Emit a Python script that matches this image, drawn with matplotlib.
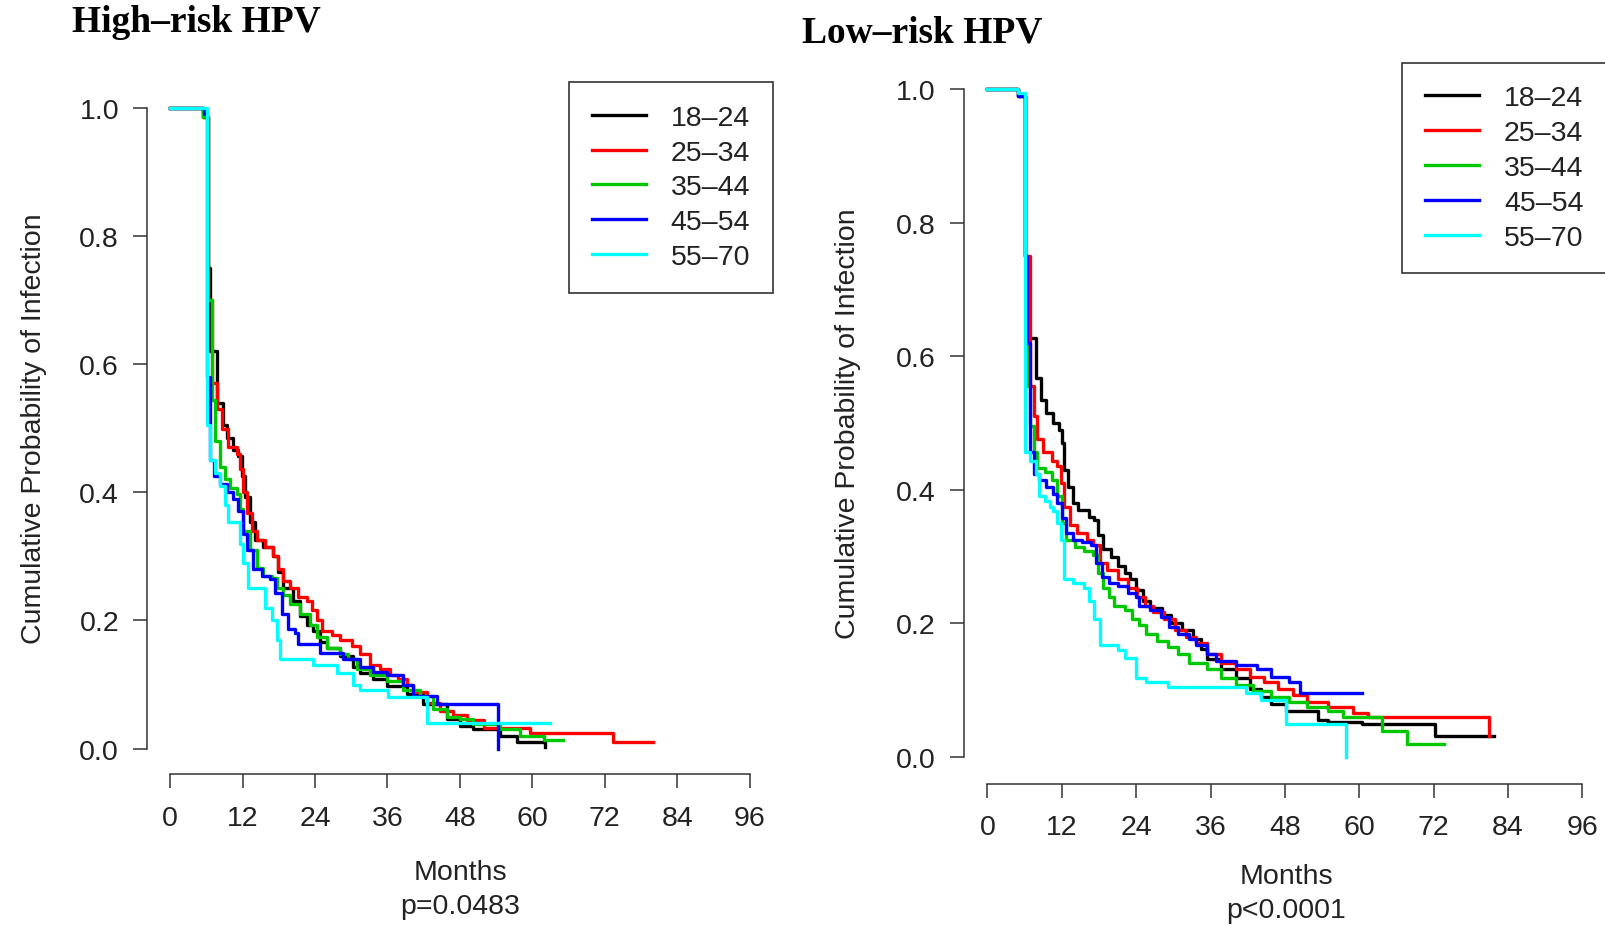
import matplotlib
matplotlib.use("Agg")
import matplotlib.pyplot as plt
from matplotlib import font_manager

# nhom tuoi va mau
groups = ["18–24", "25–34", "35–44", "45–54", "55–70"]
colors = ["#000000", "#FF0000", "#00C800", "#0000FF", "#00FFFF"]

# High-risk HPV (months, cumulative probability)
hr_t_1824 = [0, 5.5, 6.24, 6.62, 7.73, 8.83, 9.38, 10.49, 11.31, 11.86, 12.42, 13.25, 14.07, 15.45, 17.11,
             17.94, 18.76, 20.42, 21.52, 22.63, 23.73, 24.83, 25.94, 28.15, 30.35, 31.46, 33.66, 35.87,
             39.18, 41.94, 45.8, 48.01, 50.22, 54.64, 57.4, 62.09]
hr_s_1824 = [1.0, 0.985, 0.75, 0.62, 0.54, 0.505, 0.485, 0.466, 0.456, 0.426, 0.393, 0.354, 0.325, 0.315,
             0.30, 0.275, 0.25, 0.23, 0.207, 0.193, 0.184, 0.167, 0.157, 0.144, 0.128, 0.118, 0.108, 0.098,
             0.085, 0.069, 0.046, 0.036, 0.03, 0.02, 0.01, 0.003]
hr_t_2534 = [0, 5.52, 6.35, 6.90, 7.73, 8.55, 9.66, 11.04, 11.59, 12.14, 12.69, 13.52, 14.35, 15.73, 17.11,
             17.94, 18.76, 19.87, 21.25, 22.63, 23.45, 24.28, 25.11, 26.77, 28.15, 30.08, 31.46, 33.11,
             34.77, 36.42, 37.80, 39.18, 40.29, 42.49, 44.70, 46.91, 49.12, 52.0, 59.6, 73.3, 80.0]
hr_s_2534 = [1.0, 0.985, 0.70, 0.57, 0.53, 0.498, 0.47, 0.459, 0.436, 0.40, 0.367, 0.34, 0.325, 0.315, 0.30,
             0.28, 0.262, 0.25, 0.236, 0.23, 0.216, 0.20, 0.184, 0.177, 0.17, 0.16, 0.147, 0.131, 0.125,
             0.115, 0.108, 0.10, 0.088, 0.072, 0.059, 0.052, 0.045, 0.033, 0.024, 0.011, 0.011]
hr_t_3544 = [0, 5.52, 6.35, 6.90, 7.45, 8.28, 9.11, 9.93, 11.04, 11.59, 12.14, 13.25, 14.35, 15.45, 16.83,
             17.66, 18.76, 19.87, 21.52, 23.18, 24.28, 25.94, 28.15, 29.53, 30.91, 33.11, 35.87, 38.63,
             41.39, 43.60, 45.81, 48.01, 50.22, 54.64, 58.0, 62.0, 65.0]
hr_s_3544 = [1.0, 0.985, 0.70, 0.544, 0.48, 0.44, 0.42, 0.407, 0.397, 0.374, 0.34, 0.31, 0.282, 0.27, 0.266,
             0.25, 0.24, 0.226, 0.21, 0.193, 0.174, 0.157, 0.147, 0.14, 0.125, 0.115, 0.105, 0.092, 0.082,
             0.062, 0.049, 0.046, 0.039, 0.03, 0.02, 0.013, 0.013]
hr_t_4554 = [0, 5.6, 6.07, 6.62, 7.28, 8.28, 9.38, 10.49, 11.31, 12.14, 12.69, 13.80, 15.18, 16.56, 17.38,
             18.49, 19.59, 20.70, 21.25, 24.83, 28.70, 31.46, 33.66, 35.87, 38.63, 40.29, 44.15, 54.36]
hr_s_4554 = [1.0, 0.99, 0.58, 0.45, 0.426, 0.413, 0.40, 0.39, 0.37, 0.335, 0.31, 0.28, 0.27, 0.265, 0.243,
             0.21, 0.187, 0.18, 0.164, 0.15, 0.14, 0.128, 0.12, 0.115, 0.10, 0.082, 0.069, 0.0]
hr_t_5570 = [0, 6.07, 6.62, 7.45, 8.28, 9.11, 9.66, 11.59, 12.14, 12.97, 15.73, 16.83, 17.66, 18.21, 23.73,
             27.59, 30.35, 31.46, 36.15, 42.49, 62.91]
hr_s_5570 = [1.0, 0.505, 0.45, 0.43, 0.41, 0.38, 0.354, 0.32, 0.29, 0.25, 0.22, 0.20, 0.17, 0.14, 0.13,
             0.118, 0.10, 0.092, 0.08, 0.04, 0.04]

# Low-risk HPV
lr_t_1824 = [0, 4.90, 6.05, 6.62, 7.78, 8.64, 9.50, 10.66, 11.52, 12.10, 12.38, 12.96, 13.82, 14.69, 16.42,
             17.28, 17.86, 18.72, 19.87, 21.03, 22.18, 23.04, 23.91, 25.06, 26.21, 28.23, 29.67, 31.39,
             33.12, 34.5, 35.43, 37.73, 40.03, 42.34, 44.07, 45.79, 48.10, 53.28, 55.01, 60.48, 72.29, 81.80]
lr_s_1824 = [1.0, 0.99, 0.75, 0.627, 0.568, 0.535, 0.515, 0.50, 0.49, 0.47, 0.43, 0.404, 0.38, 0.37, 0.36,
             0.355, 0.332, 0.312, 0.30, 0.286, 0.276, 0.266, 0.25, 0.233, 0.223, 0.213, 0.20, 0.19, 0.177,
             0.162, 0.147, 0.131, 0.118, 0.102, 0.089, 0.079, 0.069, 0.056, 0.053, 0.049, 0.031, 0.031]
lr_t_2534 = [0, 4.90, 6.05, 6.91, 7.49, 8.06, 8.93, 10.37, 11.23, 11.81, 12.38, 13.25, 14.40, 16.13, 16.99,
             18.15, 19.30, 21.03, 22.75, 24.19, 25.35, 26.79, 28.51, 30.24, 31.97, 33.70, 35.43, 37.73,
             40.03, 42.34, 44.64, 46.95, 49.25, 51.56, 55.01, 59.04, 61.35, 80.93]
lr_s_2534 = [1.0, 0.99, 0.75, 0.555, 0.51, 0.476, 0.456, 0.443, 0.436, 0.41, 0.374, 0.348, 0.335, 0.325,
             0.318, 0.29, 0.28, 0.266, 0.253, 0.24, 0.226, 0.217, 0.207, 0.19, 0.18, 0.17, 0.154, 0.141,
             0.131, 0.12, 0.112, 0.102, 0.092, 0.082, 0.075, 0.066, 0.06, 0.031]
lr_t_3544 = [0, 4.90, 6.05, 6.34, 6.91, 7.49, 8.06, 9.22, 10.37, 11.23, 12.10, 12.67, 14.11, 15.55, 16.99,
             17.86, 18.72, 19.59, 20.45, 22.18, 23.33, 24.48, 25.63, 27.36, 29.09, 30.82, 32.55, 35.43,
             37.73, 40.03, 42.91, 45.79, 48.68, 51.56, 55.01, 57.32, 63.65, 67.68, 73.73]
lr_s_3544 = [1.0, 0.99, 0.75, 0.555, 0.496, 0.456, 0.433, 0.427, 0.414, 0.39, 0.35, 0.325, 0.315, 0.309,
             0.302, 0.276, 0.253, 0.24, 0.226, 0.22, 0.207, 0.197, 0.184, 0.174, 0.164, 0.154, 0.141, 0.131,
             0.118, 0.108, 0.098, 0.089, 0.082, 0.075, 0.069, 0.059, 0.039, 0.02, 0.02]
lr_t_4554 = [0, 4.90, 6.05, 6.34, 6.91, 7.49, 8.35, 9.50, 10.66, 11.23, 12.10, 12.67, 13.82, 15.26, 16.71,
             17.57, 18.43, 19.59, 21.03, 22.75, 23.91, 24.48, 26.21, 27.94, 29.38, 30.82, 32.55, 33.70,
             35.43, 36.87, 40.03, 43.49, 45.79, 48.68, 50.40, 60.48]
lr_s_4554 = [1.0, 0.99, 0.75, 0.62, 0.456, 0.424, 0.414, 0.404, 0.394, 0.38, 0.358, 0.335, 0.325, 0.322,
             0.318, 0.29, 0.27, 0.26, 0.256, 0.246, 0.24, 0.226, 0.22, 0.21, 0.194, 0.184, 0.177, 0.167,
             0.154, 0.144, 0.138, 0.131, 0.12, 0.112, 0.095, 0.095]
lr_t_5570 = [0, 4.90, 6.05, 6.91, 7.78, 8.35, 9.22, 10.08, 10.66, 11.23, 11.81, 12.38, 13.82, 15.55, 16.42,
             17.28, 18.15, 21.03, 22.18, 23.91, 25.63, 29.09, 41.76, 44.07, 48.10, 57.89]
lr_s_5570 = [1.0, 0.995, 0.456, 0.443, 0.424, 0.39, 0.384, 0.374, 0.368, 0.35, 0.325, 0.266, 0.26, 0.253,
             0.233, 0.207, 0.167, 0.16, 0.148, 0.118, 0.112, 0.105, 0.095, 0.085, 0.049, 0.0]

xticks = [0, 12, 24, 36, 48, 60, 72, 84, 96]
yticks = [0.0, 0.2, 0.4, 0.6, 0.8, 1.0]
ytick_labels = ["0.0", "0.2", "0.4", "0.6", "0.8", "1.0"]

# font: narrow neu co
names = {f.name for f in font_manager.fontManager.ttflist}
if "Liberation Sans Narrow" in names:
    fam, fs = "Liberation Sans Narrow", 24.5
else:
    fam, fs = "Liberation Sans", 20.5
plt.rcParams["font.family"] = [fam, "DejaVu Sans"]
em = fs * 100 / 72.0
txt_col = "#222222"

W, H = 1606, 928
fig = plt.figure(figsize=(W / 100, H / 100), dpi=100)
axL = fig.add_axes([146.9 / W, 1 - 775.3 / H, 626.0 / W, 692.3 / H])
axR = fig.add_axes([963.6 / W, 1 - 784.6 / H, 642.6 / W, 721.1 / H])

panels = [
    (axL, [hr_t_1824, hr_t_2534, hr_t_3544, hr_t_4554, hr_t_5570],
     [hr_s_1824, hr_s_2534, hr_s_3544, hr_s_4554, hr_s_5570]),
    (axR, [lr_t_1824, lr_t_2534, lr_t_3544, lr_t_4554, lr_t_5570],
     [lr_s_1824, lr_s_2534, lr_s_3544, lr_s_4554, lr_s_5570]),
]

for ax, ts, ss in panels:
    for t, s, c, g in zip(ts, ss, colors, groups):
        ax.step(t, s, where="post", color=c, lw=2.4, label=g)
    ax.set_xlim(-3.84, 99.84)
    ax.set_ylim(-0.04, 1.04)
    ax.spines["top"].set_visible(False)
    ax.spines["right"].set_visible(False)
    ax.spines["left"].set_bounds(0, 1)
    ax.spines["bottom"].set_bounds(0, 96)
    for sp in ("left", "bottom"):
        ax.spines[sp].set_color("#333333")
        ax.spines[sp].set_linewidth(1.1)
    ax.set_xticks(xticks)
    ax.set_yticks(yticks)
    ax.set_yticklabels(ytick_labels)
    ax.tick_params(axis="both", direction="out", length=10, width=1.1, color="#333333",
                   labelsize=fs, labelcolor=txt_col)
    ax.tick_params(axis="x", pad=12)
    ax.tick_params(axis="y", pad=10)
    ax.text(-0.18, 0.5, "Cumulative Probability of Infection", rotation=90, ha="center", va="center",
            transform=ax.transAxes, fontsize=fs, color=txt_col)
    leg = ax.legend(loc="upper right", borderaxespad=0, fancybox=False, fontsize=fs,
                    handlelength=54.5 / em, handletextpad=24.5 / em, borderpad=0.8,
                    labelspacing=0.31, framealpha=1)
    leg.get_frame().set_edgecolor("#333333")
    leg.get_frame().set_linewidth(1.2)
    for t in leg.get_texts():
        t.set_color(txt_col)

fig.text(71.7 / W, 1 - 22.5 / H, "High–risk HPV", ha="left", va="center", fontsize=27,
         fontweight="bold", family="Liberation Serif")
fig.text(802 / W, 1 - 32.8 / H, "Low–risk HPV", ha="left", va="center", fontsize=27,
         fontweight="bold", family="Liberation Serif")

fig.text(460 / W, 1 - 872.6 / H, "Months", ha="center", va="center", fontsize=fs, color=txt_col)
fig.text(460 / W, 1 - 907.5 / H, "p=0.0483", ha="center", va="center", fontsize=fs, color=txt_col)
fig.text(1286 / W, 1 - 876.7 / H, "Months", ha="center", va="center", fontsize=fs, color=txt_col)
fig.text(1286 / W, 1 - 911.5 / H, "p<0.0001", ha="center", va="center", fontsize=fs, color=txt_col)

fig.savefig("out.png", dpi=100)
